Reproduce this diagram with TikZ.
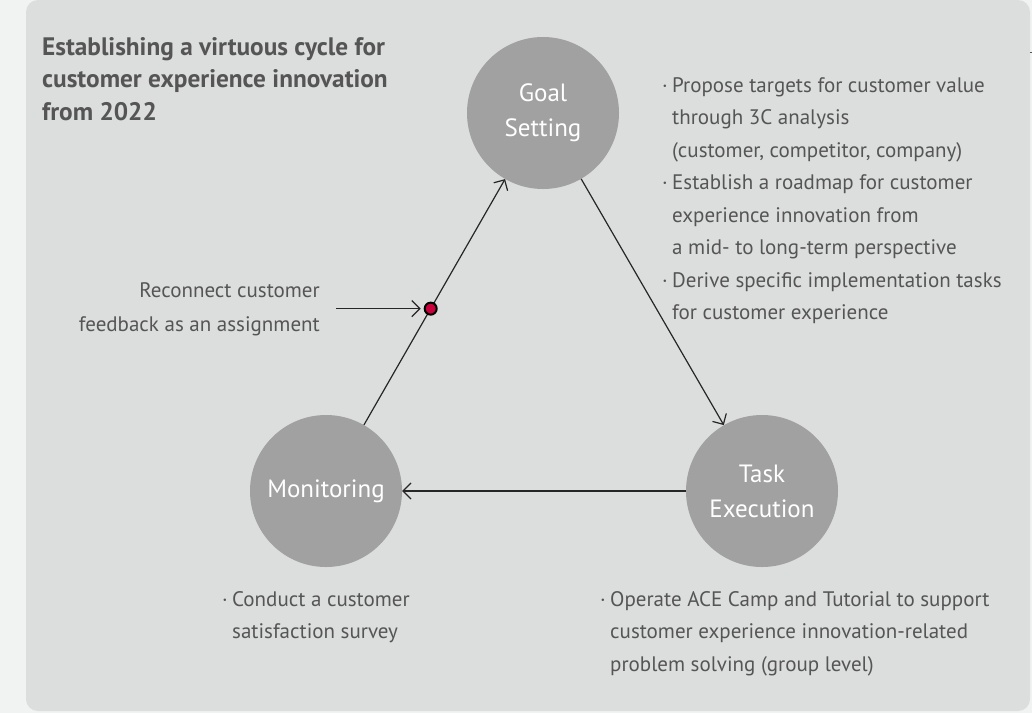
\documentclass[tikz,border=0pt]{standalone}
\usepackage{fontspec}
\setmainfont{PT Sans}
\usetikzlibrary{positioning, arrows.meta}
\definecolor{pagegray}{HTML}{F1F2F2}
\definecolor{panelgray}{HTML}{DCDDDD}
\definecolor{circgray}{HTML}{A0A1A0}
\definecolor{textgray}{HTML}{555555}
\definecolor{dotred}{HTML}{C8003C}
\newcommand{\itm}{\makebox[10pt][l]{\textperiodcentered}}
\newcommand{\ind}{\hspace*{10pt}}
\tikzset{
  stage/.style={circle, fill=circgray, minimum size=152pt, inner sep=0pt, text=white, align=center, font=\fontsize{25}{35}\selectfont},
  note/.style={inner sep=0pt, text=textgray, font=\fontsize{21}{32.5}\selectfont},
  flow/.style={-{Straight Barb[length=8pt,width=16pt]}, line width=1.2pt, draw=black!85},
}

\begin{document}
\begin{tikzpicture}[x=1pt, y=-1pt]
        % Page and panel
        \fill[pagegray] (0,0) rectangle (1032,713);
        \fill[panelgray, rounded corners=12pt] (26,0) rectangle (1030,711);
        \useasboundingbox (0,0) rectangle (1032,713);

        % Title
        \node[note, anchor=north west, align=left, font=\fontsize{25.3}{32.5}\selectfont\bfseries] (title) at (42,37)
            {Establishing a virtuous cycle for\\customer experience innovation\\from 2022};

        % Stages of the cycle
        \node[stage] (goal) at (543,113) {Goal\\Setting};
        \node[stage] (task) at (762,491) {Task\\Execution};
        \node[stage] (monitor) at (326,491) {Monitoring};

        % Cycle arrows
        \draw[flow] (goal) -- (task);
        \draw[flow] (task) -- (monitor);
        \draw[flow] (monitor) -- coordinate[pos=0.473] (fb) (goal);
        \node[circle, fill=dotred, draw=black, line width=2pt, minimum size=12pt, inner sep=0pt] (dot) at (fb) {};

        % Feedback note
        \node[note, anchor=north east, align=right, font=\fontsize{21}{34}\selectfont] (reconnect) at (320,282)
            {Reconnect customer\\feedback as an assignment};
        \draw[flow, shorten <=16pt, shorten >=3pt] (reconnect.east |- dot) -- (dot);

        % Notes for each stage
        \node[note, anchor=north west, align=left] (goalnote) at (662,77)
            {\itm Propose targets for customer value\\
             \ind through 3C analysis\\
             \ind (customer, competitor, company)\\
             \itm Establish a roadmap for customer\\
             \ind experience innovation from\\
             \ind a mid- to long-term perspective\\
             \itm Derive specific implementation tasks\\
             \ind for customer experience};
        \node[note, anchor=north west, align=left] (monitornote) at (222,591)
            {\itm Conduct a customer\\
             \ind satisfaction survey};
        \node[note, anchor=north west, align=left] (tasknote) at (600,591)
            {\itm Operate ACE Camp and Tutorial to support\\
             \ind customer experience innovation-related\\
             \ind problem solving (group level)};

        % Edge mark
        \draw[textgray, line width=1pt] (1030,52) -- (1032,52);
    \end{tikzpicture}
\end{document}
